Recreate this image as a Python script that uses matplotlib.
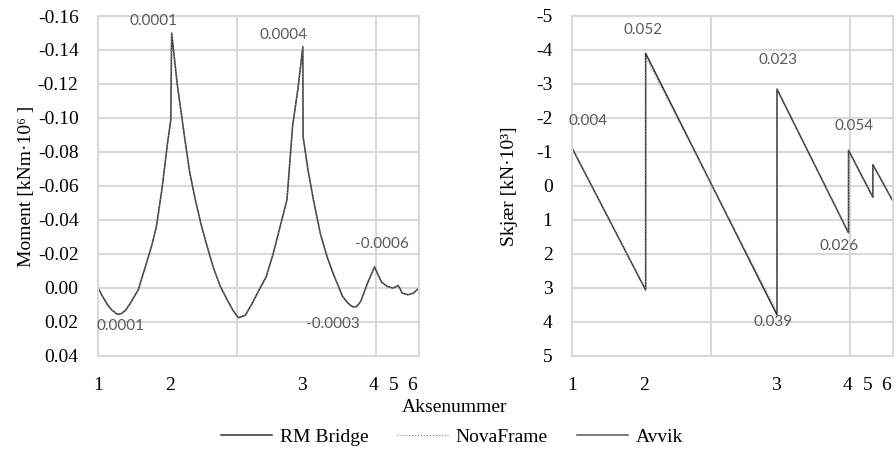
import matplotlib
matplotlib.use("Agg")
import matplotlib.pyplot as plt
from matplotlib.lines import Line2D

# Posisjon langs brua [m] og aksenummer
axis_labels = ["1", "2", "3", "4", "5", "6"]
axis_label_pos = [0, 52, 147, 198, 213, 226]
span_end = 231

# Moment [kNm*10^6]
moment_x = [0, 2, 4, 7, 10, 14, 17, 20, 24, 29, 32, 35, 39, 42, 46, 50, 52.4, 53,
            57, 62.6, 66, 70, 74, 78, 83, 88, 93, 97, 101, 106, 111, 116,
            121, 126, 131, 136, 140, 144, 147.4, 147.6, 151, 155, 160, 165,
            169, 173, 176, 180, 183, 186, 189, 194, 199, 204, 208, 212, 214, 216,
            219, 223, 227, 231]
moment_rm = [0, 0.003, 0.006, 0.010, 0.013, 0.0155, 0.015, 0.013, 0.008, 0.001, -0.007, -0.015, -0.026, -0.036, -0.058, -0.085, -0.099, -0.150,
             -0.120, -0.087, -0.068, -0.052, -0.038, -0.026, -0.012, -0.001, 0.007, 0.013, 0.0175, 0.016, 0.009, 0.001,
             -0.0065, -0.020, -0.036, -0.052, -0.095, -0.118, -0.142, -0.089, -0.070, -0.052, -0.032, -0.018,
             -0.009, -0.001, 0.005, 0.009, 0.011, 0.011, 0.008, -0.003, -0.0124, -0.0035, -0.001, 0.0, -0.0005, -0.0015,
             0.003, 0.004, 0.003, 0.0]
moment_nova = list(moment_rm)

# Skjaer [kN*10^3]
shear_x = [0, 0, 53, 53, 147.5, 147.5, 199, 199, 216.5, 216.5, 231, 231]
shear_rm = [0, -1.12, 3.06, -3.9, 3.79, -2.85, 1.38, -1.05, 0.33, -0.63, 0.45, 0]
shear_nova = [0, -1.12, 3.06, -3.8, 3.7, -2.85, 1.38, -1.05, 0.33, -0.63, 0.45, 0]

# Avvik (dataetiketter)
moment_avvik = ["0.0001", "0.0004", "0.0001", "-0.0003", "-0.0006"]
moment_avvik_x = [39.6, 133.8, 16.5, 169, 204]
moment_avvik_y = [-0.157, -0.149, 0.0225, 0.021, -0.026]
shear_avvik = ["0.004", "0.052", "0.023", "0.054", "0.026", "0.039"]
shear_avvik_x = [11.5, 51, 148, 203, 192, 145]
shear_avvik_y = [-1.9, -4.6, -3.7, -1.75, 1.75, 4.0]

moment_ticks = [-0.16, -0.14, -0.12, -0.10, -0.08, -0.06, -0.04, -0.02, 0.0, 0.02, 0.04]
moment_ticklabels = ["-0.16", "-0.14", "-0.12", "-0.10", "-0.08", "-0.06", "-0.04",
                     "-0.02", "0.00", "0.02", "0.04"]
shear_ticks = [-5, -4, -3, -2, -1, 0, 1, 2, 3, 4, 5]

plt.rcParams['font.family'] = ['Liberation Serif', 'DejaVu Serif']
plt.rcParams['font.size'] = 14

line_col = '#333333'
grid_col = '#d9d9d9'
label_col = '#595959'

fig = plt.figure(figsize=(8.96, 4.53), dpi=100)
ax1 = fig.add_axes([98 / 896, 97 / 453, 321 / 896, 340 / 453])
ax2 = fig.add_axes([572 / 896, 97 / 453, 321 / 896, 340 / 453])


def style(ax, ticks, ticklabels, ylim):
	ax.set_xlim(0, span_end)
	ax.set_ylim(*ylim)
	ax.set_yticks(ticks)
	ax.set_yticklabels(ticklabels)
	ax.set_xticks(axis_label_pos)
	ax.set_xticklabels(axis_labels)
	ax.set_xticks([100, 200], minor=True)
	ax.tick_params(axis='both', which='both', length=0)
	ax.tick_params(axis='x', pad=15)
	ax.tick_params(axis='y', pad=14)
	ax.grid(axis='y', which='major', color=grid_col, lw=1.5)
	ax.grid(axis='x', which='minor', color=grid_col, lw=1.5)
	for s in ax.spines.values():
		s.set_color(grid_col)
		s.set_linewidth(1.5)
	ax.set_axisbelow(True)


style(ax1, moment_ticks, moment_ticklabels, (0.04, -0.16))
style(ax2, shear_ticks, [str(t) for t in shear_ticks], (5, -5))

ax1.plot(moment_x, moment_rm, color=line_col, lw=1.1)
ax1.plot(moment_x, moment_nova, color='#7f7f7f', lw=0.8, ls=':')
ax2.plot(shear_x, shear_rm, color=line_col, lw=1.1)
ax2.plot(shear_x, shear_nova, color='#7f7f7f', lw=0.8, ls=':')

for t, x, y in zip(moment_avvik, moment_avvik_x, moment_avvik_y):
	ax1.text(x, y, t, ha='center', va='center', color=label_col, fontsize=11, family=['Lato', 'DejaVu Sans'])
for t, x, y in zip(shear_avvik, shear_avvik_x, shear_avvik_y):
	ax2.text(x, y, t, ha='center', va='center', color=label_col, fontsize=11, family=['Lato', 'DejaVu Sans'])

ax1.set_ylabel('Moment [kNm·10⁶ ]', labelpad=2)
ax2.set_ylabel('Skjær [kN·10³]', labelpad=13)

fig.text(455 / 896, 1 - 407 / 453, 'Aksenummer', ha='center', va='center')

handles = [Line2D([], [], color=line_col, lw=1.1),
           Line2D([], [], color='#7f7f7f', lw=0.8, ls=':'),
           Line2D([], [], color='#595959', lw=1.1)]
fig.legend(handles, ['RM Bridge', 'NovaFrame', 'Avvik'], loc='center',
           bbox_to_anchor=(452 / 896, 1 - 437 / 453), ncol=3, frameon=False,
           handlelength=2.6, handletextpad=0.4, columnspacing=1.5)

fig.savefig('out.png', dpi=100)
